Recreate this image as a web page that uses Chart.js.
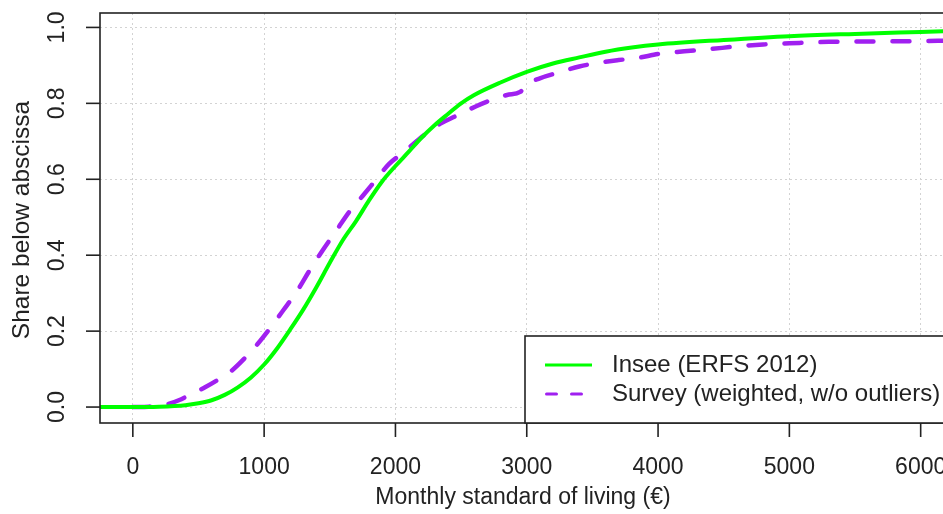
<!DOCTYPE html>
<html>
<head>
<meta charset="utf-8">
<script src="https://cdn.jsdelivr.net/npm/chart.js@4"></script>
<style>
  body { margin: 0; background: #fff; }
  #wrap { width: 943px; height: 514px; }
</style>
</head>
<body>
<div id="wrap"><canvas id="cdf-chart" width="943" height="514"></canvas></div>
<script>
const inseeIncome = [-250, 0, 200, 400, 500, 600, 700, 800, 900, 1000, 1100, 1200, 1300, 1400, 1500, 1600, 1700, 1800, 1900, 2000, 2100, 2200, 2300, 2400, 2500, 2600, 2800, 3000, 3200, 3400, 3600, 3800, 4000, 4500, 5000, 5500, 6000, 6200];
const inseeShare = [0, 0, 0.001, 0.005, 0.01, 0.018, 0.032, 0.052, 0.078, 0.112, 0.155, 0.205, 0.258, 0.317, 0.38, 0.44, 0.49, 0.545, 0.595, 0.635, 0.672, 0.71, 0.743, 0.772, 0.8, 0.822, 0.855, 0.883, 0.905, 0.921, 0.936, 0.947, 0.955, 0.967, 0.977, 0.983, 0.988, 0.99];

const surveyIncome = [0, 120, 200, 260, 350, 450, 550, 650, 750, 850, 950, 1050, 1150, 1250, 1350, 1450, 1550, 1650, 1750, 1850, 1950, 2050, 2150, 2250, 2350, 2450, 2550, 2700, 2850, 2950, 3000, 3100, 3250, 3400, 3550, 3700, 3850, 4000, 4200, 4400, 4600, 4800, 5000, 5300, 5600, 6000, 6200];
const surveyShare = [0, 0.001, 0.003, 0.007, 0.018, 0.035, 0.052, 0.072, 0.095, 0.128, 0.166, 0.21, 0.257, 0.305, 0.362, 0.415, 0.465, 0.515, 0.556, 0.598, 0.64, 0.668, 0.697, 0.725, 0.748, 0.765, 0.782, 0.805, 0.822, 0.83, 0.85, 0.866, 0.882, 0.897, 0.907, 0.914, 0.92, 0.93, 0.937, 0.943, 0.95, 0.955, 0.958, 0.962, 0.963, 0.964, 0.965];

const xTicks = [0, 1000, 2000, 3000, 4000, 5000, 6000];
const yTicks = [0, 0.2, 0.4, 0.6, 0.8, 1.0];

const FAMILY = '"Liberation Sans", Arial, Helvetica, sans-serif';
const INK = '#222';

function toPoints(xs, ys) {
  return xs.map((x, i) => ({ x: x, y: ys[i] }));
}

// R style axes, box and legend
const baseGraphics = {
  id: 'baseGraphics',
  afterDraw(chart) {
    const ctx = chart.ctx;
    const area = chart.chartArea;
    const xScale = chart.scales.x;
    const yScale = chart.scales.y;

    ctx.save();
    ctx.strokeStyle = INK;
    ctx.lineWidth = 1.6;
    ctx.strokeRect(area.left, area.top, area.right - area.left + 10, area.bottom - area.top);

    ctx.fillStyle = INK;
    ctx.font = '23px ' + FAMILY;

    // x axis
    ctx.textAlign = 'center';
    ctx.textBaseline = 'middle';
    for (const t of xScale.ticks) {
      const px = xScale.getPixelForValue(t.value);
      ctx.beginPath();
      ctx.moveTo(px, area.bottom);
      ctx.lineTo(px, area.bottom + 14);
      ctx.stroke();
      ctx.fillText(String(t.value), px, 468);
    }
    ctx.fillText('Monthly standard of living (€)', 523, 498);

    // y axis
    for (const t of yScale.ticks) {
      const py = yScale.getPixelForValue(t.value);
      ctx.beginPath();
      ctx.moveTo(area.left - 14, py);
      ctx.lineTo(area.left, py);
      ctx.stroke();
      ctx.save();
      ctx.translate(58, py);
      ctx.rotate(-Math.PI / 2);
      ctx.fillText(t.value.toFixed(1), 0, 0);
      ctx.restore();
    }
    ctx.save();
    ctx.font = '24.5px ' + FAMILY;
    ctx.translate(22, 220);
    ctx.rotate(-Math.PI / 2);
    ctx.fillText('Share below abscissa', 0, 0);
    ctx.restore();

    // legend
    const lx = 525, ly = 336;
    ctx.fillStyle = '#fff';
    ctx.fillRect(lx, ly, 943 - lx + 10, area.bottom - ly);
    ctx.strokeRect(lx, ly, 943 - lx + 10, area.bottom - ly);
    ctx.textAlign = 'left';
    ctx.font = '24px ' + FAMILY;
    chart.data.datasets.forEach((ds, i) => {
      const y = 365 + i * 29;
      ctx.save();
      ctx.strokeStyle = ds.borderColor;
      ctx.lineWidth = 3;
      ctx.lineCap = i === 1 ? 'round' : 'butt';
      ctx.setLineDash(i === 1 ? [10, 15] : []);
      ctx.beginPath();
      ctx.moveTo(i === 1 ? 546.5 : 545, y);
      ctx.lineTo(592, y);
      ctx.stroke();
      ctx.restore();
      ctx.fillStyle = INK;
      ctx.fillText(ds.label, 612, y);
    });
    ctx.restore();
  }
};

const ctx = document.getElementById('cdf-chart').getContext('2d');
const chart = new Chart(ctx, {
  type: 'line',
  data: {
    datasets: [
      {
        label: 'Insee (ERFS 2012)',
        data: toPoints(inseeIncome, inseeShare),
        borderColor: '#00ff00',
        borderWidth: 4,
        pointRadius: 0,
        cubicInterpolationMode: 'monotone'
      },
      {
        label: 'Survey (weighted, w/o outliers)',
        data: toPoints(surveyIncome, surveyShare),
        borderColor: '#a020f0',
        borderWidth: 4.5,
        borderDash: [17, 19],
        borderCapStyle: 'round',
        pointRadius: 0,
        cubicInterpolationMode: 'monotone'
      }
    ]
  },
  options: {
    responsive: false,
    animation: false,
    layout: { padding: { left: 100, top: 13, right: 0, bottom: 91 } },
    plugins: {
      legend: { display: false },
      tooltip: { enabled: false }
    },
    scales: {
      x: {
        type: 'linear',
        min: -250,
        max: 6170,
        afterBuildTicks: axis => { axis.ticks = xTicks.map(v => ({ value: v })); },
        ticks: { display: false },
        grid: { color: '#d3d3d3', lineWidth: 1, drawTicks: false },
        border: { display: false, dash: [2, 3] }
      },
      y: {
        type: 'linear',
        min: -0.042,
        max: 1.038,
        afterBuildTicks: axis => { axis.ticks = yTicks.map(v => ({ value: v })); },
        ticks: { display: false },
        grid: { color: '#d3d3d3', lineWidth: 1, drawTicks: false },
        border: { display: false, dash: [2, 3] }
      }
    }
  },
  plugins: [baseGraphics]
});
</script>
</body>
</html>
